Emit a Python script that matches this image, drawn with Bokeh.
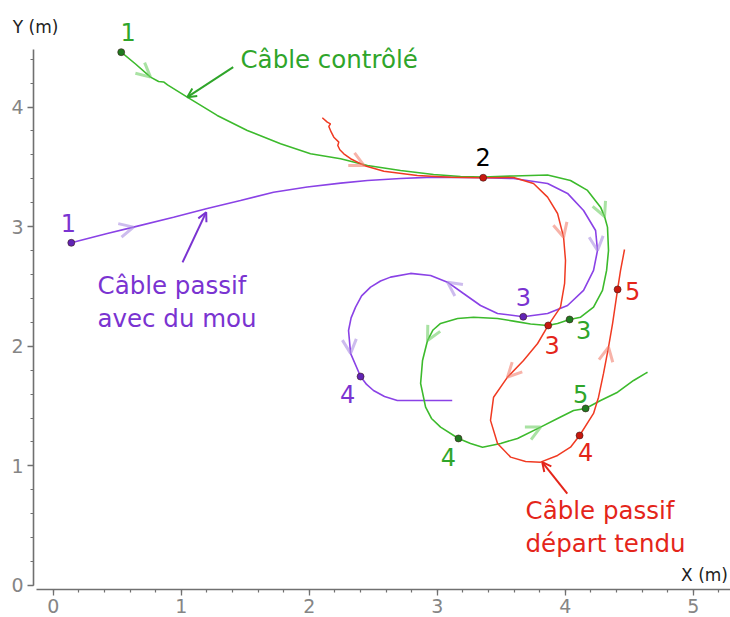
from bokeh.plotting import figure
from bokeh.models import Range1d, SingleIntervalTicker, Arrow, OpenHead, Label, ColumnDataSource
from bokeh.core.properties import value
from bokeh.embed import file_html
from bokeh.resources import INLINE

# ---------------- data (metres) ----------------
green_x = [0.531, 0.643, 0.760, 0.823, 0.862, 0.893, 1.047, 1.281, 1.516, 1.776, 2.010, 2.245, 2.455, 2.713,
           2.971, 3.182, 3.362, 3.596, 3.862, 4.041, 4.174, 4.276, 4.307, 4.330, 4.338, 4.323, 4.291, 4.221,
           4.120, 4.034, 3.940, 3.862, 3.729, 3.596, 3.471, 3.284, 3.159, 3.026, 2.967, 2.924, 2.885, 2.870,
           2.909, 2.955, 3.026, 3.166, 3.260, 3.354, 3.495, 3.627, 3.807, 3.940, 4.065, 4.159, 4.276, 4.409,
           4.534, 4.627, 4.643]
green_y = [4.459, 4.360, 4.250, 4.214, 4.210, 4.185, 4.083, 3.930, 3.804, 3.693, 3.609, 3.568, 3.512, 3.470,
           3.436, 3.420, 3.414, 3.424, 3.432, 3.386, 3.303, 3.163, 3.085, 2.996, 2.801, 2.634, 2.467, 2.327,
           2.243, 2.224, 2.191, 2.174, 2.186, 2.210, 2.232, 2.243, 2.232, 2.191, 2.136, 2.048, 1.881, 1.689,
           1.491, 1.396, 1.324, 1.229, 1.187, 1.156, 1.187, 1.229, 1.324, 1.396, 1.463, 1.480, 1.547, 1.616,
           1.714, 1.773, 1.783]

red_x = [2.102, 2.141, 2.166, 2.153, 2.172, 2.192, 2.231, 2.223, 2.239, 2.270, 2.323, 2.427, 2.583, 2.844,
         3.104, 3.359, 3.596, 3.752, 3.862, 3.940, 3.987, 4.002, 3.995, 3.963, 3.867, 3.784, 3.674, 3.549,
         3.440, 3.416, 3.471, 3.573, 3.690, 3.807, 3.940, 4.041, 4.112, 4.221, 4.260, 4.299, 4.338, 4.370,
         4.409, 4.432, 4.463]
red_y = [3.911, 3.874, 3.860, 3.838, 3.790, 3.748, 3.707, 3.679, 3.643, 3.609, 3.568, 3.512, 3.464, 3.428,
         3.414, 3.409, 3.411, 3.361, 3.247, 3.110, 2.912, 2.717, 2.525, 2.327, 2.174, 2.023, 1.881, 1.742,
         1.574, 1.380, 1.187, 1.073, 1.037, 1.031, 1.087, 1.156, 1.254, 1.438, 1.574, 1.773, 1.992, 2.191,
         2.475, 2.634, 2.809]

purple_x = [0.141, 0.422, 0.627, 0.940, 1.203, 1.463, 1.721, 1.984, 2.245, 2.455, 2.713, 2.971, 3.359, 3.596,
            3.862, 4.018, 4.143, 4.237, 4.252, 4.221, 4.143, 4.018, 3.862, 3.672, 3.471, 3.338, 3.205, 3.080,
            2.948, 2.791, 2.635, 2.557, 2.479, 2.409, 2.362, 2.327, 2.307, 2.323, 2.401, 2.448, 2.502, 2.588,
            2.688, 3.117]
purple_y = [2.865, 2.943, 2.996, 3.079, 3.152, 3.219, 3.288, 3.332, 3.364, 3.386, 3.403, 3.414, 3.409, 3.403,
            3.361, 3.278, 3.135, 2.968, 2.801, 2.634, 2.467, 2.341, 2.274, 2.247, 2.274, 2.341, 2.441, 2.536,
            2.592, 2.609, 2.578, 2.546, 2.494, 2.421, 2.327, 2.237, 2.132, 1.940, 1.747, 1.681, 1.630, 1.580,
            1.547, 1.547]

# marked instants (indices into each trajectory) and their numbers
green_marks = [0, 29, 45, 53]
green_mark_labels = ["1", "3", "4", "5"]
red_marks = [15, 24, 36, 42]
red_mark_labels = ["2", "3", "4", "5"]
purple_marks = [0, 23, 38]
purple_mark_labels = ["1", "3", "4"]

# direction chevrons (indices into each trajectory)
green_dirs = [2, 22, 39, 50]
red_dirs = [11, 20, 27, 40]
purple_dirs = [2, 18, 27, 37]

# callout texts
green_note = ["Câble contrôlé"]
purple_note = ["Câble passif", "avec du mou"]
red_note = ["Câble passif", "départ tendu"]

# ---------------- styling ----------------
FONT = "DejaVu Sans"
G_LINE, G_TEXT, G_DOT, G_CHEV = "#3cba2c", "#2fa52a", "#1f7a1f", "#70cf66"
R_LINE, R_TEXT, R_DOT, R_CHEV = "#f03a22", "#e4251a", "#c8180e", "#f28070"
P_LINE, P_TEXT, P_DOT, P_CHEV = "#8a42e6", "#7a33d1", "#6124b5", "#ab90e2"
AXIS = "#707070"

p = figure(width=730, height=617, x_range=Range1d(-0.412, 5.291), y_range=Range1d(-0.268, 4.891),
           output_backend="svg", toolbar_location=None,
           min_border_left=0, min_border_right=0, min_border_top=0, min_border_bottom=0)
p.outline_line_color = None
p.grid.visible = False

for ax in (p.xaxis[0], p.yaxis[0]):
    ax.ticker = SingleIntervalTicker(interval=1, num_minor_ticks=5)
    ax.axis_line_color = AXIS
    ax.axis_line_width = 1.6
    ax.major_tick_line_color = AXIS
    ax.minor_tick_line_color = AXIS
    ax.major_tick_line_width = 1.3
    ax.minor_tick_line_width = 1.2
    ax.major_tick_in = 0
    ax.major_tick_out = 6
    ax.minor_tick_in = 0
    ax.minor_tick_out = 3
    ax.major_label_text_color = "#858585"
    ax.major_label_text_font = FONT
    ax.major_label_text_font_size = "19px"
p.xaxis.bounds = (-0.13, 5.35)
p.yaxis.bounds = (0, 4.48)
p.xaxis.fixed_location = -0.033
p.yaxis.fixed_location = -0.154
p.xaxis.major_label_standoff = 4
p.yaxis.major_label_standoff = 4

# trajectories
p.line(purple_x, purple_y, line_color=P_LINE, line_width=1.6)
p.line(green_x, green_y, line_color=G_LINE, line_width=1.6)
p.line(red_x, red_y, line_color=R_LINE, line_width=1.5)


def chevrons(xs, ys, idx, color):
    src = ColumnDataSource(dict(x0=[xs[i - 1] for i in idx], y0=[ys[i - 1] for i in idx],
                                x1=[xs[i] for i in idx], y1=[ys[i] for i in idx]))
    p.add_layout(Arrow(end=OpenHead(size=14, line_color=color, line_width=3, line_alpha=0.6),
                       x_start="x0", y_start="y0", x_end="x1", y_end="y1",
                       line_alpha=0, source=src))


chevrons(green_x, green_y, green_dirs, G_CHEV)
chevrons(red_x, red_y, red_dirs, R_CHEV)
chevrons(purple_x, purple_y, purple_dirs, P_CHEV)

# marked points
for xs, ys, idx, dot in ((green_x, green_y, green_marks, G_DOT), (purple_x, purple_y, purple_marks, P_DOT),
                         (red_x, red_y, red_marks, R_DOT)):
    p.scatter([xs[i] for i in idx], [ys[i] for i in idx], size=7, fill_color=dot,
              line_color="#3a1a1a", line_width=0.6)

# number labels
label_offsets = {
    "green": [(7, -20), (14, 11), (-10, 19), (-5, -14)],
    "red": [(0, -21), (4, 20), (6, 17), (15, 2)],
    "purple": [(-3, -20), (0, -20), (-13, 17)],
}
for name, xs, ys, idx, labs, col in (("green", green_x, green_y, green_marks, green_mark_labels, G_TEXT),
                                     ("red", red_x, red_y, red_marks, red_mark_labels, R_TEXT),
                                     ("purple", purple_x, purple_y, purple_marks, purple_mark_labels, P_TEXT)):
    offs = label_offsets[name]
    cols = ["#000000" if (name == "red" and t == "2") else col for t in labs]
    src = ColumnDataSource(dict(x=[xs[i] for i in idx], y=[ys[i] for i in idx], t=labs,
                                dx=[o[0] for o in offs], dy=[o[1] for o in offs], c=cols))
    p.text(x="x", y="y", text="t", x_offset="dx", y_offset="dy", text_color="c", source=src,
           text_align="center", text_baseline="middle", text_font=value(FONT), text_font_size="24px")

# callout texts and arrows
note_x = {"green": 1.463, "purple": 0.346, "red": 3.690}
note_y = {"green": [4.394], "purple": [2.508, 2.232], "red": [0.627, 0.351]}
for name, lines, col in (("green", green_note, G_TEXT), ("purple", purple_note, P_TEXT), ("red", red_note, R_TEXT)):
    for t, yy in zip(lines, note_y[name]):
        p.add_layout(Label(x=note_x[name], y=yy, text=t, text_color=col, text_font=FONT,
                           text_font_size="24.5px", text_align="left", text_baseline="middle"))

callouts = [  # (x_start, y_start, x_end, y_end)
    ("green", (1.406, 4.334, 1.047, 4.083), G_TEXT),
    ("purple", (1.010, 2.701, 1.195, 3.121), P_TEXT),
    ("red", (4.016, 0.767, 3.820, 1.031), R_TEXT),
]
for name, (xs0, ys0, xs1, ys1), col in callouts:
    p.add_layout(Arrow(end=OpenHead(size=9, line_color=col, line_width=2),
                       x_start=xs0, y_start=ys0, x_end=xs1, y_end=ys1,
                       line_color=col, line_width=2))

# axis titles
p.add_layout(Label(x=-0.138, y=4.666, text="Y (m)", text_color="#222222", text_font=FONT,
                   text_font_size="17px", text_align="center", text_baseline="middle"))
p.add_layout(Label(x=5.088, y=0.084, text="X (m)", text_color="#222222", text_font=FONT,
                   text_font_size="17px", text_align="center", text_baseline="middle"))

open("out.html", "w").write(file_html(p, INLINE))
